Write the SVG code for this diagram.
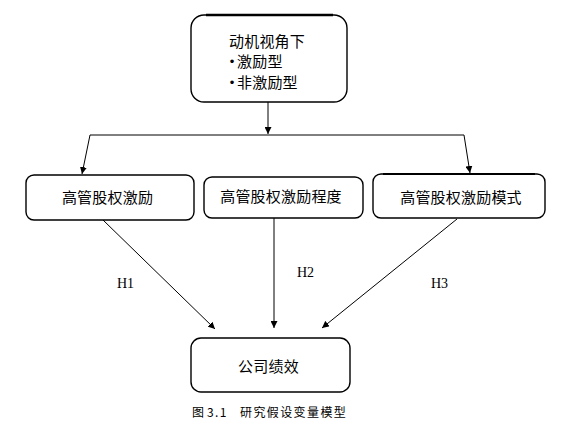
<svg xmlns="http://www.w3.org/2000/svg" width="586" height="423" viewBox="0 0 586 423">
<style>
.box{fill:#fff;stroke:#000;stroke-width:1.4}
.cjk{font-family:"Noto Sans CJK SC","Noto Sans",sans-serif;font-size:15px;fill:#000;letter-spacing:0.2px}
.bul{font-family:"Liberation Sans",sans-serif;font-size:13px;fill:#000}
.lbl{font-family:"Liberation Serif",serif;font-size:14px;fill:#000}
.cap{font-family:"Noto Sans CJK SC","Noto Sans",sans-serif;font-size:12px;fill:#000;letter-spacing:1.4px}
.ln{stroke:#000;stroke-width:1;fill:none}
</style>
<defs>
<marker id="arr" viewBox="0 0 10 10" refX="10" refY="5" markerWidth="7" markerHeight="7" markerUnits="userSpaceOnUse" orient="auto">
<path d="M0,0 L10,5 L0,10 z" fill="#000"/>
</marker>
</defs>
<g id="connectors">
<line class="ln" x1="268" y1="102" x2="268" y2="134" marker-end="url(#arr)"/>
<line class="ln" x1="90" y1="135" x2="464" y2="135"/>
<line class="ln" x1="90" y1="135" x2="82" y2="174" marker-end="url(#arr)"/>
<line class="ln" x1="464" y1="135" x2="470" y2="173" marker-end="url(#arr)"/>
<line class="ln" x1="103" y1="220" x2="215" y2="329" marker-end="url(#arr)"/>
<line class="ln" x1="274" y1="218" x2="274" y2="328" marker-end="url(#arr)"/>
<line class="ln" x1="457" y1="219" x2="322" y2="328" marker-end="url(#arr)"/>
<text class="lbl" x="117" y="288">H1</text>
<text class="lbl" x="297" y="277">H2</text>
<text class="lbl" x="431" y="288">H3</text>
</g>
<g id="node-motive">
<rect class="box" x="191" y="15" width="156" height="87" rx="13"/>
<line x1="206" y1="15" x2="333" y2="15" stroke="#000" stroke-width="2.4"/>
<text class="cjk" x="229" y="47">动机视角下</text>
<text class="bul" x="232" y="66" text-anchor="middle">•</text>
<text class="cjk" x="237" y="67">激励型</text>
<text class="bul" x="232" y="87" text-anchor="middle">•</text>
<text class="cjk" x="237" y="88">非激励型</text>
</g>
<g id="node-incentive">
<rect class="box" x="26" y="175" width="168" height="45" rx="8"/>
<text class="cjk" x="107.5" y="203" text-anchor="middle">高管股权激励</text>
</g>
<g id="node-degree">
<rect class="box" x="204" y="177" width="159" height="41" rx="8"/>
<text class="cjk" x="281" y="202" text-anchor="middle">高管股权激励程度</text>
</g>
<g id="node-mode">
<rect class="box" x="373" y="174" width="172" height="44" rx="8"/>
<line x1="383" y1="174" x2="535" y2="174" stroke="#000" stroke-width="2"/>
<text class="cjk" x="461" y="203" text-anchor="middle">高管股权激励模式</text>
</g>
<g id="node-performance">
<rect class="box" x="191" y="338" width="159" height="54" rx="10"/>
<text class="cjk" x="268.5" y="372" text-anchor="middle">公司绩效</text>
</g>
<text class="cap" x="192" y="417">图</text>
<text class="cap" x="207" y="417">3.1</text>
<text class="cap" x="240" y="417">研究假设变量模型</text>
</svg>
